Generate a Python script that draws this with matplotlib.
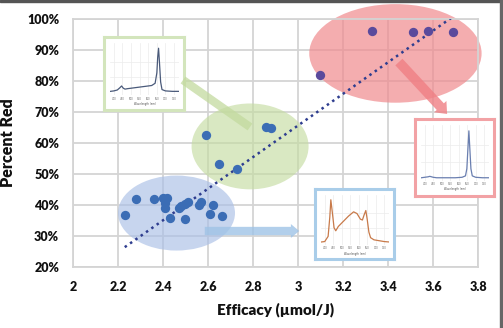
import matplotlib
matplotlib.use('Agg')
import matplotlib.pyplot as plt
import matplotlib.ticker as mticker
from matplotlib.patches import Ellipse, FancyArrowPatch, Rectangle
from matplotlib.lines import Line2D

# scatter groups (efficacy umol/J, percent red)
blue_x = [2.23, 2.28, 2.36, 2.40, 2.42, 2.41, 2.41, 2.43, 2.47, 2.48, 2.50, 2.51,
          2.50, 2.56, 2.57, 2.62, 2.61, 2.66]
blue_y = [36.7, 41.9, 41.9, 42.4, 42.4, 40.7, 39.0, 35.9, 39.1, 39.7, 40.3, 40.9,
          35.5, 40.0, 41.0, 40.1, 37.2, 36.5]
green_x = [2.59, 2.65, 2.73, 2.86, 2.88]
green_y = [62.6, 53.2, 51.6, 65.1, 64.7]
red_x = [3.10, 3.33, 3.51, 3.58, 3.69]
red_y = [82.0, 96.1, 95.9, 96.1, 95.9]

trend_x = [2.23, 3.68]
trend_y = [26.4, 100.3]

# spectra shown in the small insets (wavelength nm, relative intensity)
green_wl = [380, 400, 420, 435, 445, 455, 465, 480, 520, 580, 620, 640, 650, 655,
            660, 665, 672, 680, 700, 740, 780]
green_sp = [0.04, 0.05, 0.07, 0.12, 0.16, 0.11, 0.09, 0.10, 0.12, 0.15, 0.17, 0.22,
            0.45, 0.80, 1.00, 0.70, 0.25, 0.08, 0.05, 0.04, 0.04]
red_wl = [380, 400, 420, 430, 440, 450, 470, 520, 580, 620, 640, 648, 654, 660,
          666, 672, 680, 700, 740, 780]
red_sp = [0.01, 0.02, 0.03, 0.04, 0.03, 0.02, 0.01, 0.01, 0.01, 0.02, 0.05, 0.20,
          0.60, 1.00, 0.60, 0.20, 0.05, 0.02, 0.01, 0.01]
blue_wl = [380, 400, 420, 430, 436, 445, 455, 465, 480, 510, 540, 570, 590, 610,
           622, 632, 642, 650, 660, 670, 690, 720, 750, 780]
blue_sp = [0.02, 0.03, 0.15, 0.60, 1.00, 0.70, 0.35, 0.28, 0.38, 0.50, 0.62, 0.72,
           0.68, 0.55, 0.53, 0.65, 0.75, 0.55, 0.25, 0.12, 0.07, 0.05, 0.03, 0.02]

FONT = 'Lato'
GRID = '#d4d4d4'
H = 328

fig = plt.figure(figsize=(5.03, 3.28), dpi=100)
fig.patch.set_facecolor('white')
ax = fig.add_axes([73/503, 1 - 267/328, 405/503, 248/328])

ax.set_xlim(2, 3.8)
ax.set_ylim(20, 100)
ax.xaxis.set_major_locator(mticker.MultipleLocator(0.2))
ax.yaxis.set_major_locator(mticker.MultipleLocator(10))
ax.xaxis.set_major_formatter(mticker.FuncFormatter(lambda v, _: f"{v:g}"))
ax.yaxis.set_major_formatter(mticker.FuncFormatter(lambda v, _: f"{v:.0f}%"))
ax.grid(True, color=GRID, linewidth=1.3, zorder=0)
ax.set_axisbelow(True)
ax.tick_params(length=0, pad=10, labelsize=9, labelcolor='#111111')
for lab in ax.get_xticklabels() + ax.get_yticklabels():
    lab.set_fontfamily(FONT)
    lab.set_fontweight('heavy')
for spine in ax.spines.values():
    spine.set_edgecolor(GRID)
    spine.set_linewidth(1.3)

ax.set_xlabel('Efficacy (µmol/J)', fontfamily=FONT, fontweight='heavy',
              fontsize=11, labelpad=7, color='#111111')
ax.set_ylabel('Percent Red', fontfamily=FONT, fontweight='heavy',
              fontsize=11.5, labelpad=8, color='#111111')

# highlight ellipses
ax.add_patch(Ellipse((2.46, 37.4), 0.52, 24.2, facecolor='#a9bfe6',
                     alpha=0.65, edgecolor='none', zorder=1))
ax.add_patch(Ellipse((2.787, 58.9), 0.52, 27.7, facecolor='#c5dca2',
                     alpha=0.65, edgecolor='none', zorder=1))
ax.add_patch(Ellipse((3.433, 88.9), 0.766, 31.8, facecolor='#f08a8e',
                     alpha=0.7, edgecolor='none', zorder=1, clip_on=False))

ax.plot(trend_x, trend_y, linestyle=(0, (1, 1.6)), color='#2e3d8f',
        linewidth=1.8, zorder=3)
ax.scatter(blue_x, blue_y, s=45, color='#3b6db5', zorder=4, linewidths=0)
ax.scatter(green_x, green_y, s=45, color='#3b6db5', zorder=4, linewidths=0)
ax.scatter(red_x, red_y, s=45, color='#5a4a9c', zorder=4, linewidths=0)

# arrows from clusters to insets (figure pixels)
def arrow(p0, p1, color, tail, head, alpha):
    a = FancyArrowPatch(p0, p1, transform=None,
                        arrowstyle=f'simple,tail_width={tail},head_width={head},head_length={head * 0.6}',
                        mutation_scale=1, color=color, alpha=alpha,
                        linewidth=0, zorder=5)
    fig.patches.append(a)

fig.lines.append(Line2D([183/503, 250/503], [1 - 80/H, 1 - 127/H],
                        transform=fig.transFigure, color='#c3da9f', alpha=0.75,
                        linewidth=6, solid_capstyle='butt', zorder=5))
arrow((397, H - 60), (449, H - 116), '#ef7f84', 7, 12, 0.8)
arrow((202, H - 231), (302, H - 231), '#9fc3e6', 6, 10, 0.8)

def inset(box, wl, sp, line_color, border):
    x0, y0, x1, y1 = box
    frame = fig.add_axes([x0/503, 1 - y1/328, (x1 - x0)/503, (y1 - y0)/328])
    frame.set_xticks([])
    frame.set_yticks([])
    frame.set_facecolor('white')
    for s in frame.spines.values():
        s.set_edgecolor(border)
        s.set_linewidth(2.2)
    w = x1 - x0
    h = y1 - y0
    sub = fig.add_axes([(x0 + 0.08*w)/503, 1 - (y1 - 0.2*h)/328,
                        0.86*w/503, 0.72*h/328])
    sub.plot(wl, sp, color=line_color, linewidth=0.9)
    sub.set_xlim(380, 780)
    sub.set_ylim(-0.05, 1.12)
    sub.set_xticks(range(400, 781, 50))
    sub.set_yticks([0.35, 0.7])
    sub.set_yticklabels([])
    sub.set_xticklabels([str(v) for v in range(400, 781, 50)], fontsize=1.8,
                        color='#666666')
    sub.tick_params(length=0, pad=1)
    sub.grid(True, color='#ececec', linewidth=0.5)
    sub.set_xlabel('Wavelength (nm)', fontsize=1.8, labelpad=1, color='#444444')
    for s in sub.spines.values():
        s.set_visible(False)
    sub.patch.set_alpha(0)

inset((104, 37, 184, 110), green_wl, green_sp, '#4a5a7a', '#d3e5bc')
inset((415, 119, 494, 196), red_wl, red_sp, '#6a7fb0', '#f2a2a5')
inset((315, 189, 394, 259), blue_wl, blue_sp, '#c87a4a', '#a9cde9')

# outer chart frame (top and right edges)
fig.patches.append(Rectangle((0, 0.994), 1, 0.006, transform=fig.transFigure,
                             color='#555555', zorder=10))
fig.patches.append(Rectangle((0.994, 0), 0.006, 1, transform=fig.transFigure,
                             color='#666666', zorder=10))

fig.savefig('out.png', dpi=100, facecolor='white')
